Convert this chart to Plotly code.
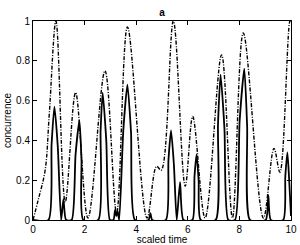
import plotly.graph_objects as go

# Solid curve: concurrence
conc_t = [0, 0.6, 0.72, 0.83, 0.96, 1.09, 1.18, 1.28, 1.5, 1.65, 1.8, 1.88, 1.95, 2.53, 2.62, 2.7, 2.84, 2.98,
          3.12, 3.18, 3.23, 3.28, 3.34, 3.5, 3.66, 3.8, 3.95,
          4.48, 4.55, 4.62, 5.15, 5.25, 5.35, 5.46, 5.57, 5.7, 5.83, 6.18, 6.26, 6.34, 6.42, 6.5,
          7.08, 7.17, 7.27, 7.42, 7.57, 7.83, 8.01, 8.19, 8.3, 8.41,
          9.02, 9.12, 9.22, 9.7, 9.78, 9.86, 9.93, 10.0]
conc_v = [0, 0, 0.38, 0.57, 0.37, 0, 0.105, 0, 0, 0.33, 0.5, 0.3, 0, 0, 0.45, 0.64, 0.4, 0,
          0, 0.05, 0.02, 0.045, 0, 0.45, 0.68, 0.44, 0,
          0, 0.035, 0, 0, 0.3, 0.45, 0.28, 0, 0.19, 0, 0, 0.22, 0.33, 0.2, 0,
          0, 0.48, 0.73, 0.46, 0, 0, 0.5, 0.76, 0.47, 0,
          0, 0.125, 0, 0, 0.22, 0.34, 0.2, 0.02]

# Dash-dot curve
env_t = [0, 0.2, 0.47, 0.63, 0.89, 1.25, 1.65, 2.13, 2.79, 3.24, 3.66, 4.42, 4.79, 4.97, 5.44, 5.9, 6.19,
         6.67, 7.31, 7.73, 8.15, 8.93, 9.34, 9.57, 9.96, 10.0]
env_v = [0, 0.1, 0.25, 0.53, 1.0, 0.09, 0.64, 0.01, 0.75, 0.035, 0.97, 0.01, 0.27, 0.25, 1.0, 0.17, 0.52,
         0.01, 0.83, 0.01, 0.94, 0.01, 0.36, 0.24, 1.0, 0.99]

x_ticks = [0, 2, 4, 6, 8, 10]
y_ticks = [0, 0.2, 0.4, 0.6, 0.8, 1]
y_tick_labels = ["0", "0.2", "0.4", "0.6", "0.8", "1"]

fig = go.Figure()
fig.add_trace(go.Scatter(x=env_t, y=env_v, mode="lines",
                         line=dict(color="black", width=1.4, dash="4px,1.5px,1px,1.5px", shape="spline", smoothing=1),
                         showlegend=False))
fig.add_trace(go.Scatter(x=conc_t, y=conc_v, mode="lines",
                         line=dict(color="black", width=1.8, shape="spline", smoothing=0.6),
                         showlegend=False))

font = dict(family="Liberation Sans, Arial, sans-serif", size=10, color="black")
axis_common = dict(showgrid=False, zeroline=False, showline=True, linecolor="black", linewidth=1,
                   mirror="ticks", ticks="inside", ticklen=4, tickcolor="black", tickwidth=1,
                   tickfont=font, automargin=False)
fig.update_layout(
    width=300, height=245,
    margin=dict(l=33, r=9, t=21, b=25),
    paper_bgcolor="white", plot_bgcolor="white",
    font=font,
    title=dict(text="<b>a</b>", x=0.5, xref="paper", y=1 - 12/245, yref="container",
               xanchor="center", yanchor="middle", font=dict(family="Liberation Sans, Arial, sans-serif", size=10)),
    xaxis=dict(range=[0, 10], tickvals=x_ticks, ticktext=[str(v) for v in x_ticks],
               title=dict(text="scaled time", font=font, standoff=0), **axis_common),
    yaxis=dict(range=[0, 1], tickvals=y_ticks, ticktext=y_tick_labels,
               title=dict(text="concurrence", font=font, standoff=2), **axis_common),
)
fig.write_html("out.html", config={"displayModeBar": False},
               post_script="document.body.style.margin='0';document.body.style.overflow='hidden';")
